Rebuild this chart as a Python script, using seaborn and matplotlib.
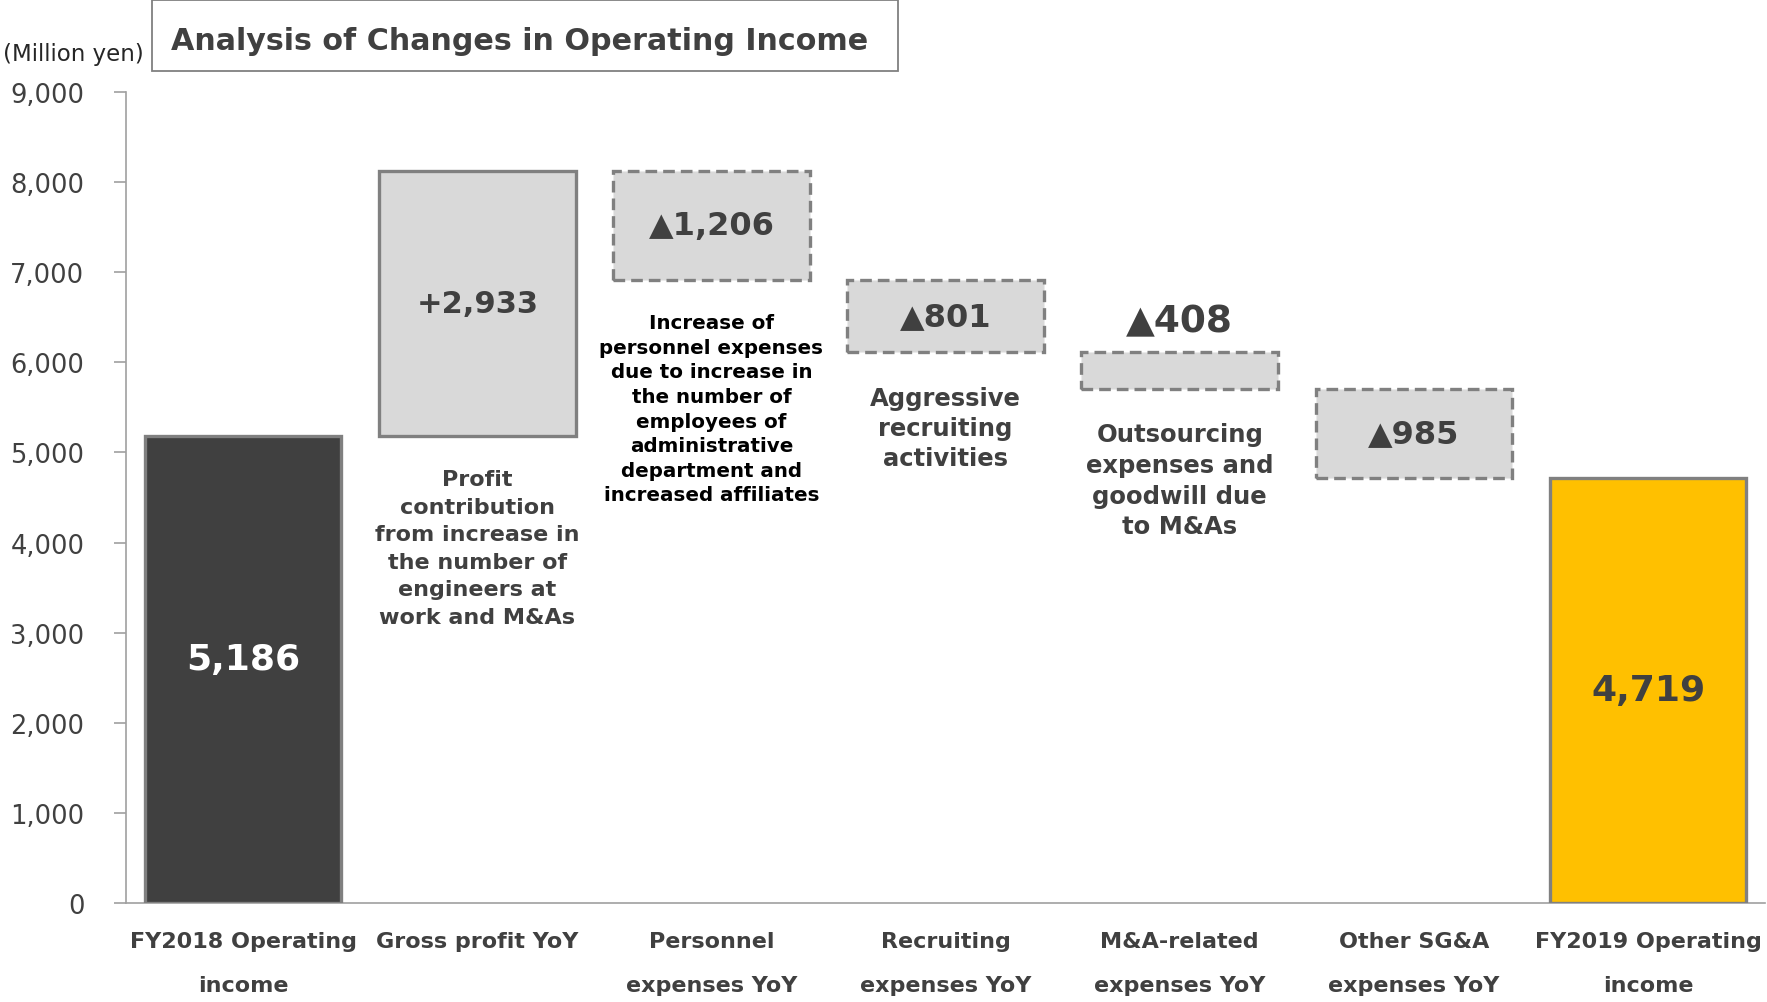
import matplotlib
matplotlib.use("Agg")
import matplotlib.pyplot as plt
from matplotlib.patches import Rectangle
import seaborn as sns
import pandas as pd

# data (million yen)
categories = ["FY2018 Operating\nincome", "Gross profit YoY", "Personnel\nexpenses YoY",
              "Recruiting\nexpenses YoY", "M&A-related\nexpenses YoY",
              "Other SG&A\nexpenses YoY", "FY2019 Operating\nincome"]
changes = [5186, 2933, -1206, -801, -408, -985, 4719]
kinds = ["total", "change", "change", "change", "change", "change", "total"]
value_labels = ["5,186", "+2,933", "▲1,206", "▲801", "▲408", "▲985", "4,719"]
notes = ["",
         "Profit\ncontribution\nfrom increase in\nthe number of\nengineers at\nwork and M&As",
         "Increase of\npersonnel expenses\ndue to increase in\nthe number of\nemployees of\n"
         "administrative\ndepartment and\nincreased affiliates",
         "Aggressive\nrecruiting\nactivities",
         "Outsourcing\nexpenses and\ngoodwill due\nto M&As",
         "", ""]
yticks = [0, 1000, 2000, 3000, 4000, 5000, 6000, 7000, 8000, 9000]

# waterfall bases / heights
bases, heights = [], []
running = 0
for v, k in zip(changes, kinds):
    if k == "total":
        bases.append(0)
        heights.append(v)
        running = v
    else:
        bases.append(running if v > 0 else running + v)
        heights.append(abs(v))
        running += v
df = pd.DataFrame({"item": categories, "base": bases, "height": heights})

# styling
DARK = "#404040"
face_colors = ["#404040", "#d9d9d9", "#d9d9d9", "#d9d9d9", "#d9d9d9", "#d9d9d9", "#ffc000"]
label_colors = ["white", DARK, DARK, DARK, DARK, DARK, DARK]
label_sizes = [26, 22, 23, 23, 27, 23, 26]
label_shift = [110, 0, 0, 0, 0, 0, 0]
note_colors = [DARK, DARK, "black", DARK, DARK, DARK, DARK]
note_sizes = [16, 16, 14.3, 17.5, 17.5, 16, 16]
note_spacing = [1.4, 1.47, 1.37, 1.34, 1.35, 1.4, 1.4]

sns.set_theme(style="white")
plt.rcParams["font.family"] = ["DejaVu Sans"]

fig = plt.figure(figsize=(17.67, 10.03), dpi=100)
ax = fig.add_axes([0.0713, 0.0987, 0.9277, 0.8086])

sns.barplot(data=df, x="item", y="height", bottom=df["base"], order=categories,
            width=0.84, color="#d9d9d9", edgecolor="#808080", linewidth=2.4,
            errorbar=None, saturation=1, ax=ax)

for i, patch in enumerate(ax.patches):
    patch.set_facecolor(face_colors[i])
    patch.set_zorder(3)
    if kinds[i] == "change" and changes[i] < 0:
        patch.set_linestyle((0, (3.5, 1.8)))

# value labels
for i, (b, h) in enumerate(zip(bases, heights)):
    y = b + h / 2 + label_shift[i]
    if h < 500:  # too thin: label above the box
        y = b + h + 340
    ax.text(i, y, value_labels[i], ha="center", va="center", fontsize=label_sizes[i],
            fontweight="bold", color=label_colors[i], zorder=5)

# explanatory notes under the change boxes
for i, note in enumerate(notes):
    if note:
        ax.text(i, bases[i] - 370, note, ha="center", va="top", fontsize=note_sizes[i],
                fontweight="bold", color=note_colors[i], linespacing=note_spacing[i],
                zorder=5)

ax.set_xlim(-0.5, 6.5)
ax.set_ylim(0, 9000)
ax.set_yticks(yticks)
ax.set_yticklabels([f"{t:,}" for t in yticks])
ax.set_xlabel("")
ax.set_ylabel("")
ax.tick_params(axis="y", left=True, length=9, width=1.2, color="#a0a0a0",
               labelsize=18.5, labelcolor=DARK, pad=21)
ax.tick_params(axis="x", bottom=False, labelsize=16, labelcolor=DARK, pad=14)
for lab in ax.get_xticklabels():
    lab.set_fontweight("bold")
    lab.set_linespacing(2.5)
    lab.set_verticalalignment("top")

for side in ["top", "right"]:
    ax.spines[side].set_visible(False)
for side in ["left", "bottom"]:
    ax.spines[side].set_color("#a0a0a0")
    ax.spines[side].set_linewidth(1.2)

# title box and unit
fig.add_artist(Rectangle((0.086, 0.9282), 0.4222, 0.0708, transform=fig.transFigure,
                         facecolor="white", edgecolor="#808080", linewidth=1.3))
fig.text(0.0968, 0.959, "Analysis of Changes in Operating Income", ha="left", va="center",
         fontsize=21.7, fontweight="bold", color=DARK)
fig.text(0.0017, 0.946, "(Million yen)", ha="left", va="center", fontsize=16.5, color="#262626")

fig.savefig("out.png", dpi=100)
